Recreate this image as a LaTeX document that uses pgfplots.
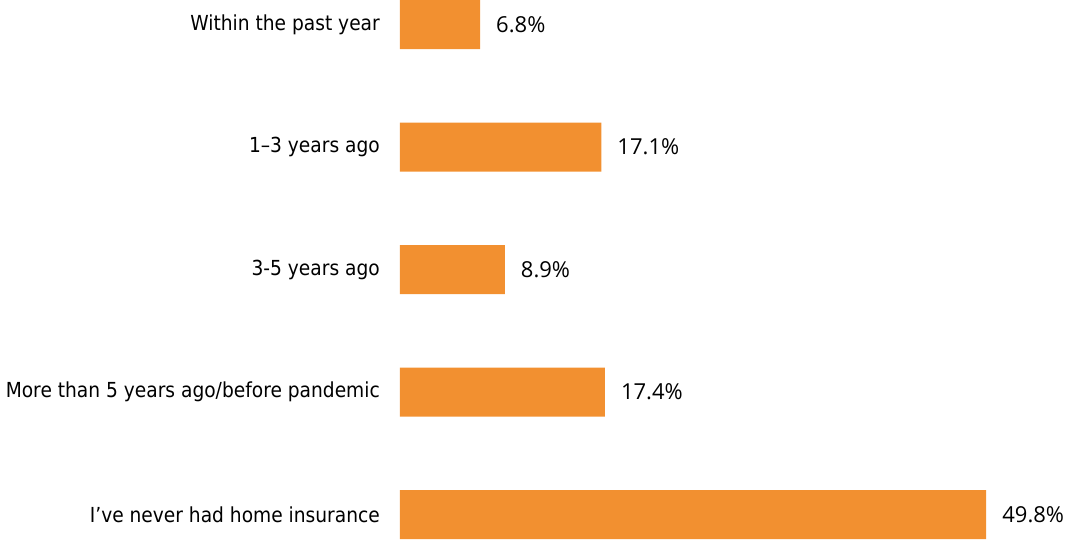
\documentclass[border=0pt]{standalone}
\usepackage{pgfplots}
\pgfplotsset{compat=1.18}
\usepackage{fontspec}
\setmainfont[FakeStretch=0.9]{DejaVu Sans}
\newfontfamily\valfont{Open Sans}
\definecolor{barorange}{RGB}{242,144,48}
\begin{document}
\begin{tikzpicture}[x=1pt,y=1pt]
\useasboundingbox (-400,0) rectangle (668,541);
\begin{axis}[
  at={(0,0)}, anchor=south west,
  scale only axis,
  width=668pt, height=541pt,
  xbar, bar width=0.4,
  xmin=0, xmax=56.75,
  ymin=-0.216, ymax=4.2,
  axis x line=none,
  axis y line=left,
  y axis line style={draw=none},
  ytick={0,1,2,3,4},
  yticklabels={I’ve never had home insurance,More than 5 years ago/before pandemic,3-5 years ago,1–3 years ago,Within the past year},
  yticklabel style={font=\fontsize{20.7}{24}\selectfont, inner sep=0pt, anchor=east, xshift=-20pt},
  major tick length=0pt,
  ytick style={draw=none},
  nodes near coords={\pgfmathprintnumber[fixed,fixed zerofill,precision=1,assume math mode=true]{\pgfplotspointmeta}\%},
  nodes near coords style={font=\valfont\fontsize{22}{26}\selectfont, anchor=west, inner sep=0pt, xshift=16pt},
  clip=false,
]
\addplot[fill=barorange, draw=none] coordinates {(49.8,0) (17.4,1) (8.9,2) (17.1,3) (6.8,4)};
\end{axis}
\end{tikzpicture}
\end{document}
